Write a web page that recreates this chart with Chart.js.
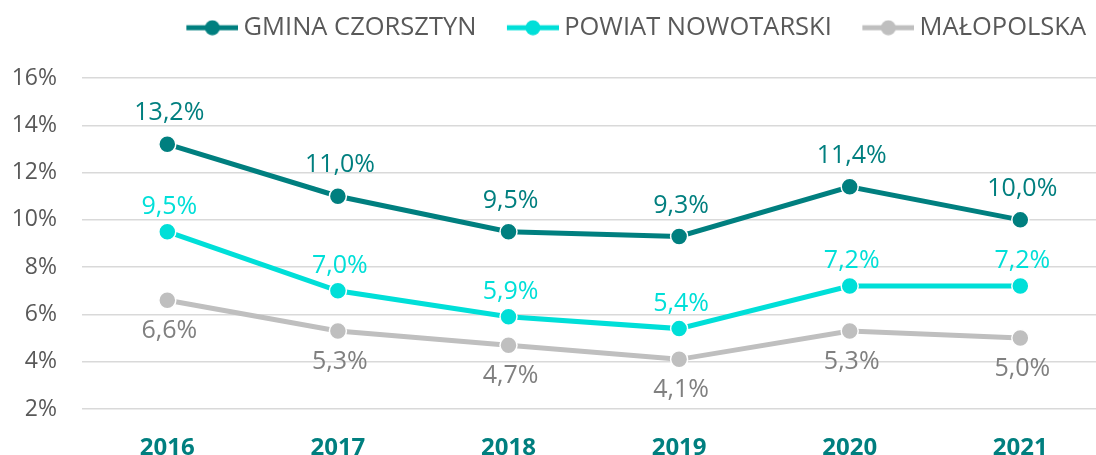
<!DOCTYPE html>
<html>
<head>
<meta charset="utf-8">
<script src="https://cdn.jsdelivr.net/npm/chart.js@4"></script>
<style>
  html, body { margin: 0; padding: 0; background: #fff; overflow: hidden; }
  #wrap { width: 1096px; height: 455px; }
</style>
</head>
<body>
<div id="wrap"><canvas id="chart"></canvas></div>
<script>
// -------------------------------------------------------------------------- Data
const years = [2016, 2017, 2018, 2019, 2020, 2021]
const gmina = [13.2, 11.0, 9.5, 9.3, 11.4, 10.0]
const powiat = [9.5, 7.0, 5.9, 5.4, 7.2, 7.2]
const malopolska = [6.6, 5.3, 4.7, 4.1, 5.3, 5.0]
const yTicks = [2, 4, 6, 8, 10, 12, 14, 16]

const teal = '#007F7F'
const cyan = '#00DFD8'
const grey = '#BFBFBF'
const textGrey = '#595959'
const font = "'Open Sans', sans-serif"

// -------------------------------------------------------------------------- Legend markers
// line + dot, drawn into a small canvas used as the legend point style
function marker(color) {
    const c = document.createElement('canvas')
    c.width = 80
    c.height = 16
    const ctx = c.getContext('2d')
    ctx.strokeStyle = color
    ctx.lineWidth = 5
    ctx.beginPath()
    ctx.moveTo(28, 8)
    ctx.lineTo(80, 8)
    ctx.stroke()
    ctx.fillStyle = color
    ctx.beginPath()
    ctx.arc(54, 8, 7.5, 0, Math.PI * 2)
    ctx.fill()
    return c
}

// -------------------------------------------------------------------------- Value labels
const valueLabels = {
    id: 'valueLabels',
    afterDatasetsDraw(chart) {
        const ctx = chart.ctx
        ctx.save()
        ctx.font = '25px ' + font
        ctx.textAlign = 'center'
        ctx.textBaseline = 'middle'
        chart.data.datasets.forEach((ds, i) => {
            const meta = chart.getDatasetMeta(i)
            ctx.fillStyle = ds.labelColor
            meta.data.forEach((pt, j) => {
                const txt = ds.data[j].y.toFixed(1).replace('.', ',') + '%'
                ctx.fillText(txt, pt.x + 2, pt.y + ds.labelOffset)
            })
        })
        ctx.restore()
    }
}

function series(label, values, color, labelColor, labelOffset) {
    return {
        label: label,
        data: values.map((v, i) => ({ x: years[i], y: v })),
        borderColor: color,
        backgroundColor: color,
        borderWidth: 5,
        pointRadius: 8.5,
        pointHoverRadius: 8.5,
        pointBorderWidth: 1.5,
        pointBorderColor: '#ffffff',
        tension: 0,
        labelColor: labelColor,
        labelOffset: labelOffset,
        legendMarker: marker(color)
    }
}

// -------------------------------------------------------------------------- Chart
const step = 170.6
const xMin = years[0] - 0.5
const xMax = xMin + (1096 - 82) / step

new Chart(document.getElementById('chart'), {
    type: 'line',
    data: {
        datasets: [
            series('GMINA CZORSZTYN', gmina, teal, teal, -31),
            series('POWIAT NOWOTARSKI', powiat, cyan, cyan, -25),
            series('MAŁOPOLSKA', malopolska, grey, '#808080', 31)
        ]
    },
    options: {
        responsive: true,
        maintainAspectRatio: false,
        animation: false,
        events: [],
        layout: {
            autoPadding: false,
            padding: { top: 5, left: 0, right: 0, bottom: 0 }
        },
        plugins: {
            tooltip: { enabled: false },
            // empty title used as a spacer between legend and plot
            title: {
                display: true,
                text: '',
                weight: 500,
                font: { size: 10 },
                padding: { top: 15.5, bottom: 0 }
            },
            legend: {
                position: 'top',
                align: 'end',
                labels: {
                    usePointStyle: true,
                    pointStyleWidth: 65,
                    padding: 10,
                    color: textGrey,
                    font: { family: font, size: 25.5 },
                    generateLabels(chart) {
                        return chart.data.datasets.map((ds, i) => ({
                            text: ds.label,
                            fontColor: textGrey,
                            pointStyle: ds.legendMarker,
                            strokeStyle: ds.borderColor,
                            fillStyle: ds.borderColor,
                            lineWidth: 0,
                            datasetIndex: i
                        }))
                    }
                }
            }
        },
        scales: {
            x: {
                type: 'linear',
                min: xMin,
                max: xMax,
                afterFit: s => {
                    s.height = 46
                    s.paddingLeft = 0
                    s.paddingRight = 0
                },
                grid: { display: false, drawTicks: false },
                border: { display: false },
                afterBuildTicks: s => { s.ticks = years.map(v => ({ value: v })) },
                ticks: {
                    padding: 25,
                    maxRotation: 0,
                    autoSkip: false,
                    color: teal,
                    font: { family: font, size: 24, weight: 'bold' },
                    callback: v => String(v)
                }
            },
            y: {
                min: yTicks[0],
                max: yTicks[yTicks.length - 1],
                afterFit: s => { s.width = 82 },
                afterBuildTicks: s => { s.ticks = yTicks.map(v => ({ value: v })) },
                grid: { color: '#D9D9D9', lineWidth: 1.5, drawTicks: false },
                border: { display: false },
                ticks: {
                    padding: 25,
                    color: textGrey,
                    font: { family: font, size: 23 },
                    callback: v => v + '%'
                }
            }
        }
    },
    plugins: [valueLabels]
})
</script>
</body>
</html>
